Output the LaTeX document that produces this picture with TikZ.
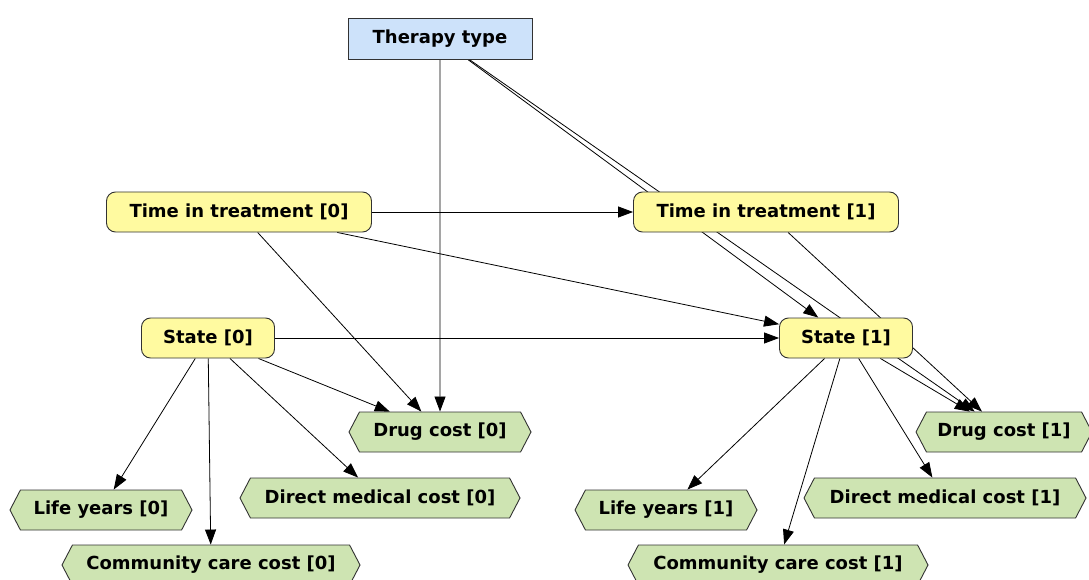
\documentclass[tikz,border=0pt]{standalone}
\usepackage{fontspec}
\setmainfont{DejaVu Sans}
\usetikzlibrary{shapes,shapes.symbols,arrows.meta,positioning,backgrounds}
\definecolor{nodeblue}{RGB}{205,226,250}
\definecolor{nodeyellow}{RGB}{255,250,160}
\definecolor{nodegreen}{RGB}{206,228,178}
\definecolor{nodeline}{RGB}{50,50,50}
\tikzset{
    nodefont/.style={font=\bfseries\fontsize{18}{20}\selectfont},
    decisionbox/.style={rectangle, draw=nodeline, line width=0.9pt, fill=nodeblue, minimum height=41pt, inner sep=0pt, nodefont},
    chance/.style={rectangle, draw=nodeline, line width=0.9pt, fill=nodeyellow, rounded corners=9pt, minimum height=40pt, inner sep=0pt, nodefont},
    utility/.style={signal, signal to=east and west, signal pointer angle=125, draw=nodeline, line width=0.9pt, fill=nodegreen, minimum height=40pt, inner sep=0pt, nodefont},
    line/.style={draw, line width=0.8pt, -{Triangle[length=15pt,width=11pt]}}
}
\begin{document}
\begin{tikzpicture}[x=1pt,y=-1pt]
    \useasboundingbox (0,0) rectangle (1089,580);
    % Decision node
    \node [decisionbox, minimum width=184pt] (therapy) at (440,39) {Therapy type};

    % Chance nodes, slice 0 and slice 1
    \node [chance, minimum width=265pt] (time0) at (239,212) {Time in treatment [0]};
    \node [chance, minimum width=265pt] (time1) at (766,212) {Time in treatment [1]};
    \node [chance, minimum width=133pt] (state0) at (208,338) {State [0]};
    \node [chance, minimum width=133pt] (state1) at (846,338) {State [1]};

    % Utility nodes
    \node [utility, minimum width=182pt] (drug0) at (440,432) {Drug cost [0]};
    \node [utility, minimum width=176pt] (drug1) at (1004,432) {Drug cost [1]};
    \node [utility, minimum width=182pt] (life0) at (101,510) {Life years [0]};
    \node [utility, minimum width=182pt] (life1) at (666,510) {Life years [1]};
    \node [utility, minimum width=280pt] (direct0) at (380,498) {Direct medical cost [0]};
    \node [utility, minimum width=282pt] (direct1) at (945,498) {Direct medical cost [1]};
    \node [utility, minimum width=298pt] (care0) at (211,565) {Community care cost [0]};
    \node [utility, minimum width=300pt] (care1) at (778,565) {Community care cost [1]};

    % Connections (behind the nodes)
    \begin{pgfonlayer}{background}
    \path [line] (therapy) -- (drug0);
    \path [line] (therapy) -- (state1);
    \path [line] (therapy) -- (drug1);
    \path [line] (time0) -- (time1);
    \path [line] (time0) -- (state1);
    \path [line] (time0) -- (drug0);
    \path [line] (time1) -- (drug1);
    \path [line] (state0) -- (state1);
    \path [line] (state0) -- (drug0);
    \path [line] (state0) -- (life0);
    \path [line] (state0) -- (care0);
    \path [line] (state0) -- (direct0);
    \path [line] (state1) -- (drug1);
    \path [line] (state1) -- (life1);
    \path [line] (state1) -- (care1);
    \path [line] (state1) -- (direct1);
    \end{pgfonlayer}
\end{tikzpicture}
\end{document}
